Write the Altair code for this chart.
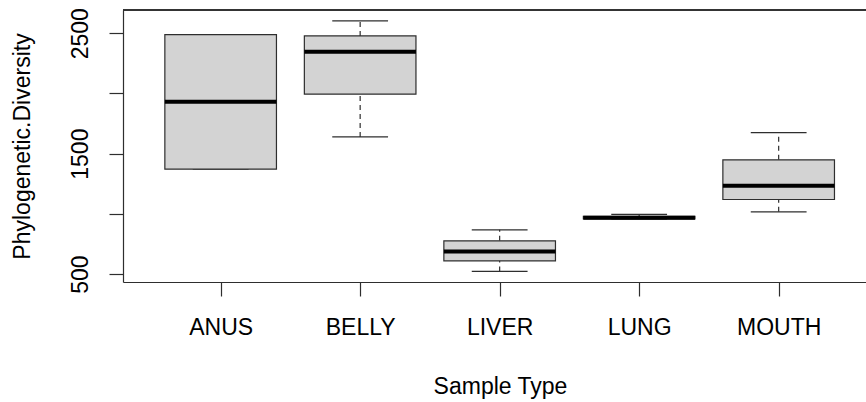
import altair as alt
import pandas as pd

categories = ["ANUS", "BELLY", "LIVER", "LUNG", "MOUTH"]
whisker_low = [1371, 1639, 522, 958, 1017]
q1 = [1371, 1994, 610, 959, 1119]
median = [1930, 2347, 688, 967, 1233]
q3 = [2488, 2478, 776, 980, 1449]
whisker_high = [2488, 2602, 867, 996, 1675]

y_ticks = [500, 1000, 1500, 2000, 2500]
y_labelled = [500, 1500, 2500]

df = pd.DataFrame({
    "cat": categories,
    "pos": list(range(1, len(categories) + 1)),
    "wlo": whisker_low,
    "q1": q1,
    "med": median,
    "q3": q3,
    "whi": whisker_high,
})

FONT = "Liberation Sans"
FS = 23
DARK = "#2e2e2e"

label_array = "[" + ",".join("'" + c + "'" for c in categories) + "]"
ylab_array = "[" + ",".join(str(v) for v in y_labelled) + "]"

xscale = alt.Scale(domain=[0.3, 5.626], nice=False, zero=False)
yscale = alt.Scale(domain=[434, 2693], nice=False, zero=False)

xaxis = alt.Axis(
    orient="bottom",
    values=[1, 2, 3, 4, 5],
    labelExpr=label_array + "[datum.value - 1]",
    grid=False,
    tickSize=14,
    tickColor=DARK,
    tickWidth=1.2,
    domainColor=DARK,
    domainWidth=1.2,
    labelFont=FONT,
    labelFontSize=FS,
    labelColor="#000000",
    labelBaseline="alphabetic",
    labelPadding=38,
    labelAlign="center",
    title="Sample Type",
    titleFont=FONT,
    titleFontSize=FS,
    titleFontWeight="normal",
    titleColor="#000000",
    titleBaseline="alphabetic",
    titleAlign="center",
    titleX=377,
    titleY=111,
)

yaxis = alt.Axis(
    values=y_ticks,
    labelExpr="indexof(" + ylab_array + ", datum.value) >= 0 ? '' + datum.value : ''",
    grid=False,
    tickSize=14,
    tickColor=DARK,
    tickWidth=1.2,
    domainColor=DARK,
    domainWidth=1.2,
    labelFont=FONT,
    labelFontSize=FS,
    labelColor="#000000",
    labelAngle=270,
    labelAlign="center",
    labelBaseline="alphabetic",
    labelPadding=22,
    labelOverlap=False,
    title="Phylogenetic.Diversity",
    titleFont=FONT,
    titleFontSize=FS,
    titleFontWeight="normal",
    titleColor="#000000",
    titleAngle=270,
    titleAlign="center",
    titleBaseline="alphabetic",
    titleX=-94,
    titleY=136,
)

base = alt.Chart(df).transform_calculate(
    lo="datum.pos - 0.4",
    hi="datum.pos + 0.4",
    clo="datum.pos - 0.2",
    chi="datum.pos + 0.2",
)

upper_whisker = base.mark_rule(color=DARK, strokeWidth=1.2, strokeDash=[5, 4]).encode(
    x=alt.X("pos:Q", scale=xscale, axis=xaxis),
    y=alt.Y("q3:Q", scale=yscale, axis=yaxis),
    y2="whi:Q",
)
lower_whisker = base.mark_rule(color=DARK, strokeWidth=1.2, strokeDash=[5, 4]).encode(
    x=alt.X("pos:Q", scale=xscale),
    y=alt.Y("wlo:Q", scale=yscale),
    y2="q1:Q",
)
cap_hi = base.mark_rule(color=DARK, strokeWidth=1.2).encode(
    x=alt.X("clo:Q", scale=xscale),
    x2="chi:Q",
    y=alt.Y("whi:Q", scale=yscale),
)
cap_lo = base.mark_rule(color=DARK, strokeWidth=1.2).encode(
    x=alt.X("clo:Q", scale=xscale),
    x2="chi:Q",
    y=alt.Y("wlo:Q", scale=yscale),
)
boxes = base.mark_rect(fill="#D3D3D3", stroke=DARK, strokeWidth=1.2).encode(
    x=alt.X("lo:Q", scale=xscale),
    x2="hi:Q",
    y=alt.Y("q1:Q", scale=yscale),
    y2="q3:Q",
)
medians = base.mark_rule(color="#000000", strokeWidth=4, strokeCap="butt").encode(
    x=alt.X("lo:Q", scale=xscale),
    x2="hi:Q",
    y=alt.Y("med:Q", scale=yscale),
)
top_frame = alt.Chart(df).mark_rule(color=DARK, strokeWidth=1.2).encode(
    x=alt.value(0),
    x2=alt.value(743),
    y=alt.value(0),
)

chart = alt.layer(
    upper_whisker, lower_whisker, cap_hi, cap_lo, boxes, medians, top_frame
).properties(
    width=743,
    height=272,
    autosize=alt.AutoSizeParams(type="none"),
    padding={"left": 123, "top": 10, "right": 0, "bottom": 120},
    background="white",
).configure_view(stroke="transparent")

chart.save("out.html", embed_options={"renderer": "svg", "actions": False})
